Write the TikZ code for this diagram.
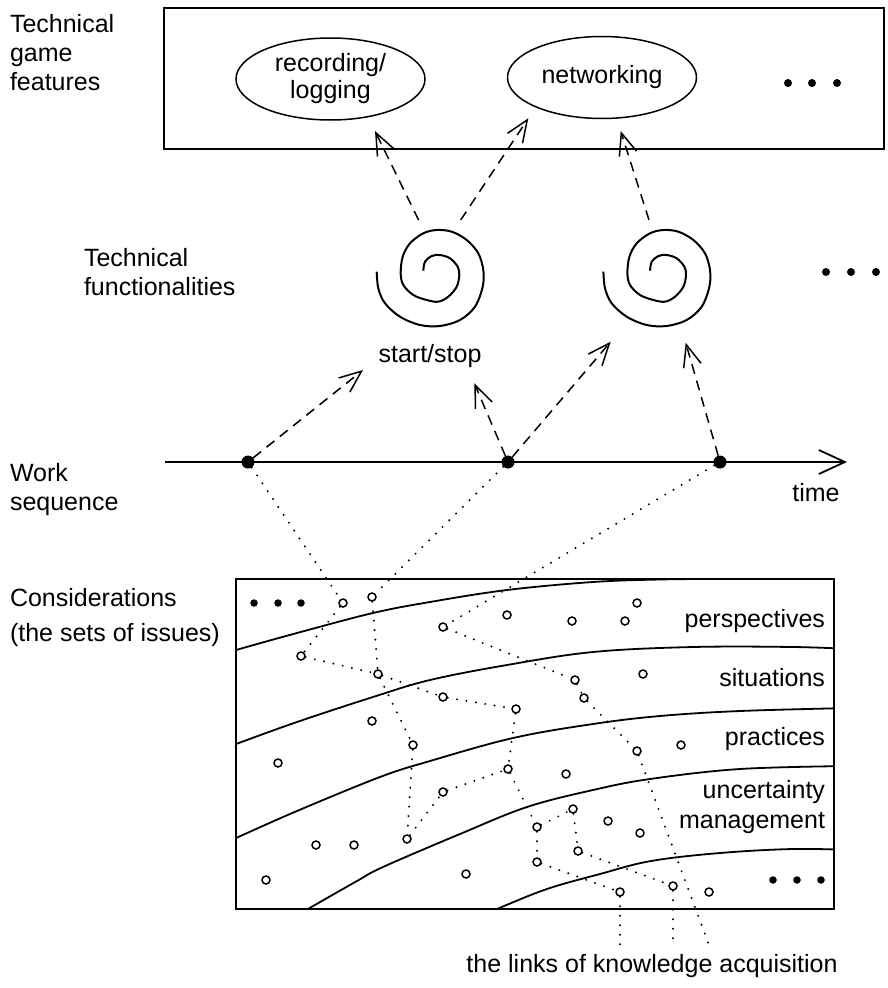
\documentclass[tikz,border=0pt]{standalone}
\usepackage{fontspec}
\setmainfont{Liberation Sans}
\usetikzlibrary{arrows.meta,shapes.geometric}

\tikzset{
  spiralpic/.pic={
    \draw[line width=2pt] plot[smooth, tension=0.55] coordinates {
      (0,0) (1.7,-9) (8.4,-14.7) (16.7,-15.7) (26.7,-12.4) (34.4,-4)
      (36,4.3) (33.4,16) (25,26) (15,31) (3.4,29.3) (-10,24.3)
      (-20,14.3) (-22.6,2.6) (-20.6,-14) (-13.3,-27.4) (0,-37.4)
      (13.4,-40.7) (28.4,-39) (43.4,-30.7) (55,-17.4) (60,-0.7)
      (59.4,16) (51.7,36) (36.7,49.3) (16.7,55.3) (-3.3,54.3)
      (-23.3,46) (-38.3,32.6) (-45,17.6) (-46.6,1)};
  }
}

\begin{document}
\begin{tikzpicture}[x=1pt,y=-1pt,
  txt/.style={font=\fontsize{25}{29}\selectfont, inner sep=0pt, outer sep=0pt},
  frame/.style={draw, line width=1.8pt, inner sep=0pt, outer sep=0pt},
  feature/.style={ellipse, draw, line width=1.5pt, minimum width=189pt,
    minimum height=82pt, inner sep=0pt, align=center,
    font=\fontsize{25}{27}\selectfont},
  barb/.style={-{Straight Barb[length=22pt,width=18pt]}},
  dasharrow/.style={line width=1.5pt, dash pattern=on 10pt off 7pt, barb},
  link/.style={line width=2.2pt, line cap=round, dash pattern=on 0pt off 9.5pt},
  issue/.style={circle, draw, fill=white, line width=1.5pt, minimum size=8pt, inner sep=0pt},
  more/.style={circle, fill, minimum size=7.5pt, inner sep=0pt},
  event/.style={circle, fill, minimum size=13pt, inner sep=0pt},
  band/.style={line width=1.8pt},
]
\useasboundingbox (0,0) rectangle (887,988);

% ---------- left-hand level labels ----------
\node[txt, anchor=west, align=left] (lfeat) at (10,53) {Technical\\game\\features};
\node[txt, anchor=west, align=left] (lfunc) at (84,272) {Technical\\functionalities};
\node[txt, anchor=west, align=left] (lwork) at (10,490) {Work\\sequence};
\node[txt, anchor=west, align=left] (lcons) at (10,618) {Considerations\\[6pt](the sets of issues)};

% ---------- technical game features ----------
\node[frame, anchor=north west, minimum width=720pt, minimum height=141pt] (featbox) at (164,8) {};
\node[feature] (rec) at (330.5,79) {recording/\\logging};
\node[feature] (net) at (602,77.5) {networking};
\node[more, minimum size=8pt] (fm1) at (788,83) {};
\node[more, minimum size=8pt] (fm2) at (812,83) {};
\node[more, minimum size=8pt] (fm3) at (837,83) {};

% ---------- technical functionalities ----------
\coordinate (fn1) at (423.3,270.7);
\coordinate (fn2) at (650,270.7);
\pic at (fn1) {spiralpic};
\pic at (fn2) {spiralpic};
\node[txt] (startstop) at (430,356) {start/stop};
\node[more, minimum size=8pt] (fx1) at (826,272) {};
\node[more, minimum size=8pt] (fx2) at (851,272) {};
\node[more, minimum size=8pt] (fx3) at (876,272) {};

% arrow ends between functionalities and features
\coordinate (tA) at (418.6,220);  \coordinate (hA) at (375,131);
\coordinate (tB) at (460.7,220);  \coordinate (hB) at (528.3,118.3);
\coordinate (tC) at (649,220);    \coordinate (hC) at (620.7,131);
\draw[dasharrow] (tA) -- (hA);
\draw[dasharrow] (tB) -- (hB);
\draw[dasharrow] (tC) -- (hC);

% ---------- work sequence ----------
\coordinate (tl0) at (165,462);
\coordinate (tl1) at (847,462);
\draw[line width=1.8pt, -{Straight Barb[length=26pt,width=24pt]}] (tl0) -- (tl1);
\node[txt] (timelbl) at (816,493) {time};
\node[event] (ev1) at (248,462) {};
\node[event] (ev2) at (508,462) {};
\node[event] (ev3) at (720,462) {};

\coordinate (hD) at (363,370);
\coordinate (hE) at (474.3,383.3);
\coordinate (hF) at (610.7,341.7);
\coordinate (hG) at (685.7,342.7);
\draw[dasharrow] (ev1) -- (hD);
\draw[dasharrow] (ev2) -- (hE);
\draw[dasharrow] (ev2) -- (hF);
\draw[dasharrow] (ev3) -- (hG);

% ---------- considerations ----------
\begin{scope}
  \clip (236,579) rectangle (834,909);
  \draw[band] plot[smooth, tension=0.6] coordinates {(220,655) (236,650) (297,633) (373,613) (430,602) (507,590) (593,582) (660,579.5) (720,579) (850,579)};
  \draw[band] plot[smooth, tension=0.6] coordinates {(220,750) (236,744) (297,722) (373,697) (430,680) (507,665) (593,652) (693,647) (793,647) (850,649)};
  \draw[band] plot[smooth, tension=0.6] coordinates {(220,845) (236,838) (297,811) (380,777) (430,761) (513,738) (593,724) (660,716) (740,711) (850,708)};
  \draw[band] plot[smooth, tension=0.6] coordinates {(295,917) (308,909) (357,881) (383,867) (460,834) (527,807) (593,790) (650,779) (740,769) (850,766)};
  \draw[band] plot[smooth, tension=0.6] coordinates {(480,917) (497,909) (547,889) (600,874) (651,861) (720,853) (793,849) (850,850)};
\end{scope}
\node[frame, anchor=north west, minimum width=598pt, minimum height=330pt] (consbox) at (236,579) {};

\node[txt, anchor=base east] (lpersp) at (825,627) {perspectives};
\node[txt, anchor=base east] (lsitu) at (825,686) {situations};
\node[txt, anchor=base east] (lprac) at (825,745) {practices};
\node[txt, anchor=base east] (lunc1) at (825,798) {uncertainty};
\node[txt, anchor=base east] (lunc2) at (825,828) {management};

\node[more] (cm1) at (254,603) {};
\node[more] (cm2) at (278,603) {};
\node[more] (cm3) at (301,603) {};
\node[more] (cm4) at (773,880) {};
\node[more] (cm5) at (797,880) {};
\node[more] (cm6) at (821,880) {};

% issues
\node[issue] (a) at (343,603) {};
\node[issue] (b) at (372,597) {};
\node[issue] (c) at (443,627) {};
\node[issue] (d) at (507,615) {};
\node[issue] (d2) at (572,621) {};
\node[issue] (d3) at (625,621) {};
\node[issue] (d4) at (637,603) {};
\node[issue] (e) at (301,656) {};
\node[issue] (f) at (378,674) {};
\node[issue] (g) at (443,697) {};
\node[issue] (h) at (516,709) {};
\node[issue] (y1) at (575,680) {};
\node[issue] (y2) at (584,698) {};
\node[issue] (s2) at (643,674) {};
\node[issue] (i) at (372,721) {};
\node[issue] (j) at (278,763) {};
\node[issue] (k) at (413,745) {};
\node[issue] (z) at (637,751) {};
\node[issue] (z2) at (681,745) {};
\node[issue] (l) at (443,792) {};
\node[issue] (m) at (508,769) {};
\node[issue] (m2) at (566,774) {};
\node[issue] (w) at (573,809) {};
\node[issue] (w2) at (608,821) {};
\node[issue] (w3) at (640,833) {};
\node[issue] (n1) at (316,845) {};
\node[issue] (n2) at (354,845) {};
\node[issue] (p) at (407,839) {};
\node[issue] (q) at (537,827) {};
\node[issue] (x) at (578,851) {};
\node[issue] (r) at (537,862) {};
\node[issue] (s) at (466,874) {};
\node[issue] (t) at (266,880) {};
\node[issue] (u1) at (620,892) {};
\node[issue] (u2) at (673,886) {};
\node[issue] (u3) at (709,892) {};

% links of knowledge acquisition
\coordinate (end1) at (620,945);
\coordinate (end2) at (673,945);
\coordinate (end3) at (709,945);
\draw[link] (ev1) -- (a) -- (e) -- (f) -- (g) -- (h) -- (m) -- (q) -- (r) -- (u1) -- (end1);
\draw[link] (ev2) -- (b) -- (f) -- (k) -- (p) -- (l) -- (m);
\draw[link] (q) -- (w) -- (x) -- (u2) -- (end2);
\draw[link] (ev3) -- (c) -- (y1) -- (y2) -- (z) -- (end3);

\node[txt] (linkslbl) at (652,966) {the links of knowledge acquisition};
\end{tikzpicture}
\end{document}
